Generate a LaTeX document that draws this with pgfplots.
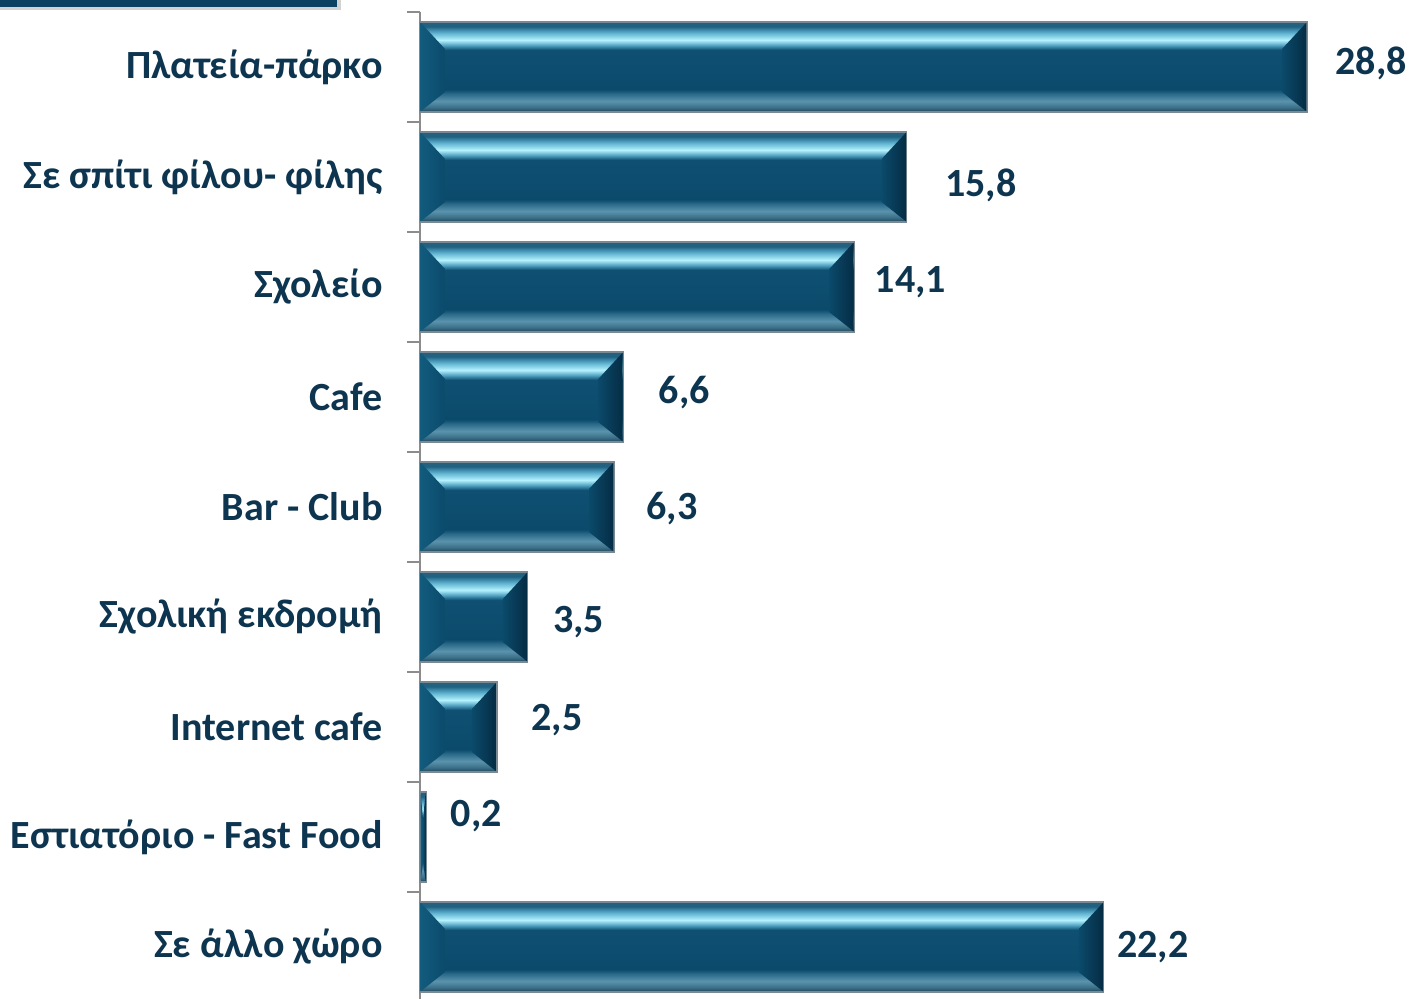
\documentclass[border=0pt]{standalone}
\usepackage{fontspec}
\setmainfont{Carlito}
\usepackage{pgfplots}
\pgfplotsset{compat=1.18}
\usetikzlibrary{calc}

\definecolor{txt}{HTML}{0D3550}
\definecolor{axisgray}{HTML}{8C8C8C}
\definecolor{bargray}{HTML}{7A8A94}
\definecolor{boxblue}{HTML}{0B4264}
\definecolor{face}{HTML}{0B4A6B}
\definecolor{endLo}{HTML}{125B7D}
\definecolor{endRo}{HTML}{052C44}
% bar gradient, bottom (25bp) to top (75bp)
\definecolor{s0}{HTML}{1F4558}
\definecolor{s1}{HTML}{3C6F88}
\definecolor{s2}{HTML}{5A93AD}
\definecolor{s3}{HTML}{2C6B89}
\definecolor{s4}{HTML}{0B4A6B}
\definecolor{s5}{HTML}{0F5072}
\definecolor{s6}{HTML}{4FA0C0}
\definecolor{s7}{HTML}{B5F3FF}
\definecolor{s8}{HTML}{5DB0CF}
\definecolor{s9}{HTML}{1F6283}
\definecolor{s10}{HTML}{2A5E7C}
\pgfdeclareverticalshading{barshade}{100bp}{%
  color(0bp)=(s0); color(25bp)=(s0); color(27.5bp)=(s1); color(31bp)=(s2);
  color(35bp)=(s3); color(37.5bp)=(s4); color(59.5bp)=(s5); color(62bp)=(s6);
  color(65bp)=(s7); color(69bp)=(s8); color(72.5bp)=(s9); color(75bp)=(s10);
  color(100bp)=(s10)}
\pgfdeclarehorizontalshading{lface}{100bp}{%
  color(0bp)=(endLo); color(25bp)=(endLo); color(75bp)=(face); color(100bp)=(face)}
\pgfdeclarehorizontalshading{rface}{100bp}{%
  color(0bp)=(face); color(25bp)=(face); color(75bp)=(endRo); color(100bp)=(endRo)}

% bevelled bar ends, drawn as a mark at the end of each bar
\pgfdeclareplotmark{bevel}{%
  \pgfmathsetmacro\len{\rawx*15.4}%
  \pgfmathsetmacro\bw{min(12.5,\len/2)}%
  \pgfmathsetmacro\lx{min(12.5,\len/2)-\len}%
  \pgfpathmoveto{\pgfpoint{-0.3pt}{22.2pt}}%
  \pgfpathlineto{\pgfpoint{-\bw pt}{9pt}}%
  \pgfpathlineto{\pgfpoint{-\bw pt}{-12.5pt}}%
  \pgfpathlineto{\pgfpoint{-0.3pt}{-22.2pt}}%
  \pgfpathclose
  \pgfshadepath{rface}{0}\pgfusepath{discard}%
  \pgfpathmoveto{\pgfpoint{-\len pt+0.3pt}{22.2pt}}%
  \pgfpathlineto{\pgfpoint{\lx pt}{9pt}}%
  \pgfpathlineto{\pgfpoint{\lx pt}{-12.5pt}}%
  \pgfpathlineto{\pgfpoint{-\len pt+0.3pt}{-22.2pt}}%
  \pgfpathclose
  \pgfshadepath{lface}{0}\pgfusepath{discard}%
}

\pgfplotsset{
  bevelbar/.style 2 args={xbar, bar shift=0pt, bar width=45pt,
    draw=bargray, line width=0.6pt, shade, shading=barshade,
    mark=bevel, visualization depends on={x \as \rawx},
    point meta=x,
    nodes near coords={\pgfmathprintnumber[fixed, fixed zerofill, precision=1, use comma, assume math mode=true]{\pgfplotspointmeta}},
    nodes near coords style={font=\fontsize{20}{24}\selectfont\bfseries, text=txt,
      anchor=west, inner sep=0pt, xshift=#1, yshift=#2}},
}

\begin{document}
\begin{tikzpicture}
\begin{axis}[
  x=15.4pt, y=55pt,
  xmin=0, xmax=29,
  ymin=-0.5, ymax=8.5,
  y dir=reverse,
  axis y line*=left, axis x line=none,
  y axis line style={-, draw=axisgray, line width=0.8pt},
  ytick={0,...,8},
  yticklabels={{Πλατεία-πάρκο},{Σε σπίτι φίλου- φίλης},{Σχολείο},{Cafe},{Bar - Club},{Σχολική εκδρομή},{Internet cafe},{Εστιατόριο - Fast Food},{Σε άλλο χώρο}},
  major tick length=0pt,
  minor ytick={-0.5,0.5,...,8.5},
  minor tick length=6.5pt,
  tick align=outside,
  tick style={draw=axisgray, line width=0.8pt},
  yticklabel style={font=\fontsize{20}{24}\selectfont\bfseries, text=txt, inner sep=0pt, xshift=-18.5pt},
  clip=false,
]
\addplot[bevelbar={14pt}{2pt}]    coordinates {(28.8,0)};
\addplot[bevelbar={19pt}{-4pt}]   coordinates {(15.8,1)};
\addplot[bevelbar={10pt}{2.5pt}]  coordinates {(14.1,2)};
\addplot[bevelbar={17.5pt}{2pt}]  coordinates {(6.6,3)};
\addplot[bevelbar={16pt}{-1pt}]   coordinates {(6.3,4)};
\addplot[bevelbar={12.5pt}{-2.5pt}] coordinates {(3.5,5)};
\addplot[bevelbar={17pt}{3.5pt}]  coordinates {(2.5,6)};
\addplot[bevelbar={12pt}{10.5pt}] coordinates {(0.2,7)};
\addplot[bevelbar={6.5pt}{0pt}]   coordinates {(22.2,8)};
\coordinate (tl) at (axis cs:0,-0.5);
\end{axis}
\pgfresetboundingbox
\path[use as bounding box] ($(tl)+(-210pt,6pt)$) rectangle ++(705pt,-499.5pt);
\fill[gray!35] ($(tl)+(-210pt,6pt)$) rectangle ++(170.5pt,-5pt);
\fill[boxblue] ($(tl)+(-210pt,6pt)$) rectangle ++(168.5pt,-3.5pt);
\end{tikzpicture}
\end{document}
